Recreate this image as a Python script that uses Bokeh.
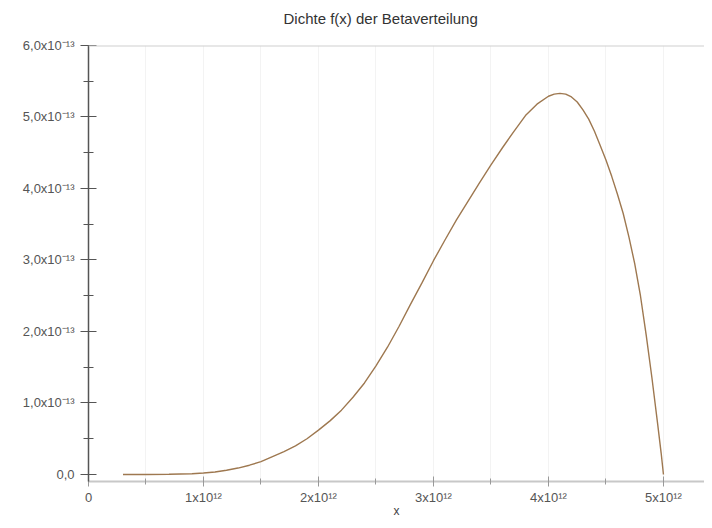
from bokeh.plotting import figure
from bokeh.models import (FixedTicker, CustomJSTickFormatter, Span, Range1d, Title,
                          ColumnDataSource)
from bokeh.embed import file_html
from bokeh.resources import INLINE

# Curve readings: x in units of 1e12, density in units of 1e-13
x_vals = [0.3, 0.5, 0.7, 0.9, 1.0, 1.1, 1.2, 1.3, 1.4, 1.5, 1.6, 1.7, 1.8, 1.9,
          2.0, 2.1, 2.2, 2.3, 2.4, 2.5, 2.6, 2.7, 2.8, 2.9, 3.0, 3.1, 3.2, 3.3,
          3.4, 3.5, 3.6, 3.7, 3.8, 3.9, 4.0, 4.05, 4.1, 4.15, 4.2, 4.25, 4.3,
          4.35, 4.4, 4.45, 4.5, 4.55, 4.6, 4.65, 4.7, 4.75, 4.8, 4.85, 4.9,
          4.95, 4.98, 5.0]
y_vals = [0.0, 0.0, 0.003, 0.01, 0.02, 0.035, 0.06, 0.09, 0.13, 0.18, 0.25, 0.32,
          0.40, 0.50, 0.62, 0.75, 0.90, 1.08, 1.28, 1.52, 1.78, 2.07, 2.38, 2.68,
          2.99, 3.28, 3.56, 3.82, 4.08, 4.33, 4.57, 4.80, 5.02, 5.18, 5.29, 5.32,
          5.33, 5.32, 5.28, 5.21, 5.10, 4.97, 4.80, 4.60, 4.40, 4.17, 3.92, 3.65,
          3.32, 2.95, 2.50, 1.95, 1.35, 0.70, 0.30, 0.0]

x_ticks = [0, 1e12, 2e12, 3e12, 4e12, 5e12]
x_tick_labels = ["0", "1x10¹²", "2x10¹²", "3x10¹²", "4x10¹²", "5x10¹²"]
x_minor = [0.5e12, 1.5e12, 2.5e12, 3.5e12, 4.5e12]
y_ticks = [0, 1e-13, 2e-13, 3e-13, 4e-13, 5e-13, 6e-13]
y_tick_labels = ["0,0", "1,0x10⁻¹³", "2,0x10⁻¹³", "3,0x10⁻¹³", "4,0x10⁻¹³",
                 "5,0x10⁻¹³", "6,0x10⁻¹³"]
y_minor = [0.5e-13, 1.5e-13, 2.5e-13, 3.5e-13, 4.5e-13, 5.5e-13]
title_text = "Dichte f(x) der Betaverteilung"
x_axis_title = "x"

src = ColumnDataSource(dict(x=[v * 1e12 for v in x_vals],
                            y=[v * 1e-13 for v in y_vals]))

FONT = "Liberation Sans"

p = figure(width=704, height=520, output_backend="svg", toolbar_location=None,
           x_range=Range1d(0, 5.357e12), y_range=Range1d(-0.098e-13, 6.0e-13),
           min_border_left=88, min_border_right=0, min_border_top=45,
           min_border_bottom=39, title=None)
p.outline_line_color = None
p.background_fill_color = "white"
p.border_fill_color = "white"

# spacer title (closest to frame) then the real title above it
p.add_layout(Title(text=" ", text_font_size="16px", standoff=0), "above")
p.add_layout(Title(text=title_text, align="left", offset=195,
                   text_font=FONT, text_font_size="15px", text_font_style="normal",
                   text_color="#333333", standoff=0), "above")

# grid (faint vertical lines at major and minor x positions)
p.ygrid.grid_line_color = None
p.xgrid.grid_line_color = "#f3f3f3"
p.xgrid.grid_line_width = 1
p.xgrid.minor_grid_line_color = "#f3f3f3"

# x axis
xa = p.xaxis[0]
xa.ticker = FixedTicker(ticks=x_ticks, minor_ticks=x_minor)
xa.formatter = CustomJSTickFormatter(args=dict(labels=x_tick_labels),
                                     code="return labels[index];")
xa.axis_line_color = "#c8c8c8"
xa.axis_line_width = 2
xa.major_tick_line_color = "#999999"
xa.minor_tick_line_color = "#999999"
xa.major_tick_in = 5
xa.major_tick_out = 5
xa.minor_tick_in = 3
xa.minor_tick_out = 3
xa.major_label_text_font = FONT
xa.major_label_text_font_size = "13px"
xa.major_label_text_color = "#555555"
xa.major_label_standoff = 3
xa.axis_label = x_axis_title
xa.axis_label_text_font = FONT
xa.axis_label_text_font_size = "12px"
xa.axis_label_text_font_style = "normal"
xa.axis_label_text_color = "#444444"
xa.axis_label_standoff = -4

# y axis
ya = p.yaxis[0]
ya.ticker = FixedTicker(ticks=y_ticks, minor_ticks=y_minor)
ya.formatter = CustomJSTickFormatter(args=dict(labels=y_tick_labels),
                                     code="return labels[index];")
ya.axis_line_color = "#555555"
ya.axis_line_width = 1.5
ya.major_tick_line_color = "#555555"
ya.minor_tick_line_color = "#555555"
ya.major_tick_in = 8
ya.major_tick_out = 8
ya.minor_tick_in = 5
ya.minor_tick_out = 5
ya.major_label_text_font = FONT
ya.major_label_text_font_size = "13px"
ya.major_label_text_color = "#555555"
ya.major_label_standoff = 6

# top border line
p.add_layout(Span(location=6e-13, dimension="width", line_color="#d0d0d0",
                  line_width=2))

p.line("x", "y", source=src, line_color="#9e7850", line_width=1.4)

open("out.html", "w").write(file_html(p, INLINE))
